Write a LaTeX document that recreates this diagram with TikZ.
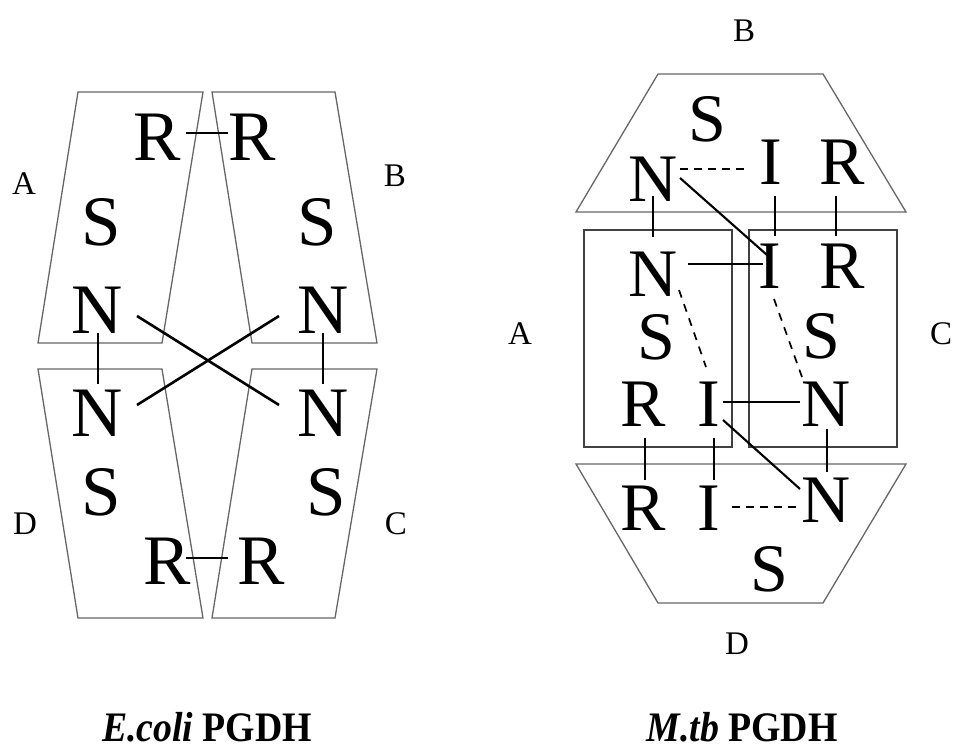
\documentclass[tikz,border=0pt]{standalone}
\usepackage{fontspec}
\setmainfont{Liberation Serif}
\usetikzlibrary{calc}
\begin{document}
\begin{tikzpicture}[x=1pt,y=-1pt,
  bigL/.style={font=\fontsize{71}{71}\selectfont, inner sep=0pt, anchor=center},
  bigR/.style={font=\fontsize{68}{68}\selectfont, inner sep=0pt, anchor=center},
  lab/.style={font=\fontsize{33}{33}\selectfont, inner sep=0pt, anchor=center},
  ttl/.style={font=\fontsize{42}{42}\selectfont\bfseries, inner sep=0pt, anchor=base, xscale=0.9},
  domL/.style={draw=black!60, line width=1.3pt, line join=miter},
  domR/.style={draw=black!75, line width=1.4pt},
  link/.style={line width=2.6pt},
  linkR/.style={line width=2.1pt},
  dlink/.style={line width=2.1pt, dash pattern=on 8pt off 6pt},
  dlinkd/.style={line width=1.7pt, dash pattern=on 8pt off 7pt}]
\useasboundingbox (0,0) rectangle (953,751);

% ---------------- E.coli PGDH ----------------
\draw[domL] (78,92) -- (203,92) -- (162,343) -- (38,343) -- cycle;
\draw[domL] (212,92) -- (335,92) -- (377,343) -- (252,343) -- cycle;
\draw[domL] (38,369) -- (162,369) -- (203,618) -- (78,618) -- cycle;
\draw[domL] (252,369) -- (377,369) -- (335,618) -- (212,618) -- cycle;

\node[bigL] (eRA) at (157,137) {R};
\node[bigL] (eRB) at (252,137) {R};
\node[bigL] (eSA) at (101,222) {S};
\node[bigL] (eSB) at (317,222) {S};
\node[bigL] (eNA) at (97,310) {N};
\node[bigL] (eNB) at (323,310) {N};
\node[bigL] (eND) at (97,413) {N};
\node[bigL] (eNC) at (323,413) {N};
\node[bigL] (eSD) at (101,492) {S};
\node[bigL] (eSC) at (326,492) {S};
\node[bigL] (eRD) at (167,561) {R};
\node[bigL] (eRC) at (261,561) {R};

\node[lab] (eLA) at (24,184) {A};
\node[lab] (eLB) at (395,176) {B};
\node[lab] (eLD) at (25,524) {D};
\node[lab] (eLC) at (396,524) {C};

\draw[link] ($(eRA.center)+(29,-4)$) -- ($(eRB.center)+(-24,-4)$);
\draw[link] ($(eRD.center)+(19,-3)$) -- ($(eRC.center)+(-33,-3)$);
\draw[link] ($(eNA.center)+(1,23)$) -- ($(eND.center)+(1,-29)$);
\draw[link] ($(eNB.center)+(0,23)$) -- ($(eNC.center)+(0,-29)$);
\draw[link] ($(eNA.center)+(40,6)$) -- ($(eNC.center)+(-44,-8)$);
\draw[link] ($(eNB.center)+(-44,6)$) -- ($(eND.center)+(40,-8)$);

\node[ttl] (eTitle) at (207,741) {\textit{E.coli} PGDH};

% ---------------- M.tb PGDH ----------------
\draw[domL] (658,74) -- (823,74) -- (906,212) -- (576,212) -- cycle;
\draw[domL] (576,464) -- (906,464) -- (823,603) -- (658,603) -- cycle;
\draw[domR] (584,230) rectangle (732,447);
\draw[domR] (749,230) rectangle (897,447);

\node[bigR] (mSB) at (707,119) {S};
\node[bigR] (mNB) at (653,179) {N};
\node[bigR] (mIB) at (771,162) {I};
\node[bigR] (mRB) at (842,162) {R};

\node[bigR] (mNA) at (653,274) {N};
\node[bigR] (mSA) at (656,337) {S};
\node[bigR] (mRA) at (643,404) {R};
\node[bigR] (mIA) at (709,404) {I};

\node[bigR] (mIC) at (770,266) {I};
\node[bigR] (mRC) at (842,266) {R};
\node[bigR] (mSC) at (821,336) {S};
\node[bigR] (mNC) at (826,404) {N};

\node[bigR] (mRD) at (643,508) {R};
\node[bigR] (mID) at (709,508) {I};
\node[bigR] (mND) at (826,500) {N};
\node[bigR] (mSD) at (769,569) {S};

\node[lab] (mLB) at (744,31) {B};
\node[lab] (mLA) at (520,334) {A};
\node[lab] (mLC) at (941,334) {C};
\node[lab] (mLD) at (737,644) {D};

% connectors
\draw[dlink] ($(mNB.center)+(27,-10)$) -- ($(mIB.center)+(-22,7)$);
\draw[linkR] ($(mNB.center)+(27,-1)$) -- ($(mIC.center)+(-3,-11)$);
\draw[link] ($(mNB.center)+(0,17)$) -- ($(mNA.center)+(0,-37)$);
\draw[link] ($(mIB.center)+(4,34)$) -- ($(mIC.center)+(5,-30)$);
\draw[link] ($(mRB.center)+(-6,34)$) -- ($(mRC.center)+(-6,-30)$);
\draw[linkR] ($(mNA.center)+(35,-10)$) -- ($(mIC.center)+(-7,-2)$);
\draw[dlinkd] ($(mNA.center)+(26,16)$) -- ($(mIA.center)+(-3,-37)$);
\draw[dlinkd] ($(mIC.center)+(4,33)$) -- ($(mNC.center)+(-24,-27)$);
\draw[linkR] ($(mIA.center)+(14,-2)$) -- ($(mNC.center)+(-26,-2)$);
\draw[linkR] ($(mIA.center)+(14,16)$) -- ($(mND.center)+(-26,-11)$);
\draw[link] ($(mRA.center)+(2,34)$) -- ($(mRD.center)+(2,-28)$);
\draw[link] ($(mIA.center)+(5,34)$) -- ($(mID.center)+(5,-28)$);
\draw[link] ($(mNC.center)+(1,25)$) -- ($(mND.center)+(1,-28)$);
\draw[dlink] ($(mID.center)+(23,-1)$) -- ($(mND.center)+(-25,7)$);

\node[ttl] (mTitle) at (742,741) {\textit{M.tb} PGDH};
\end{tikzpicture}
\end{document}
